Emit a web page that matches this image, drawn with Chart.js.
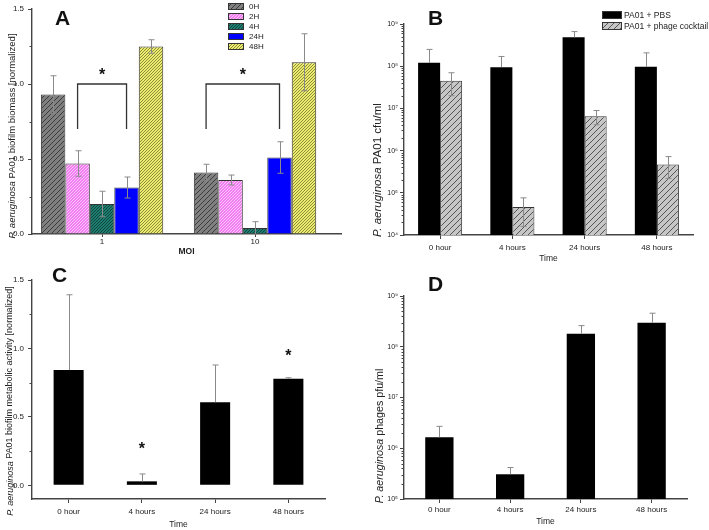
<!DOCTYPE html>
<html>
<head>
<meta charset="utf-8">
<script src="https://cdn.jsdelivr.net/npm/chart.js@4.4.1/dist/chart.umd.min.js"></script>
<style>
html,body{margin:0;padding:0;background:#fff;}
#wrap{position:relative;width:709px;height:530px;overflow:hidden;background:#fff;}
.panel{position:absolute;}
.letter{position:absolute;font:bold 21px "Liberation Sans",Arial,sans-serif;line-height:21px;color:#111;}
</style>
</head>
<body>
<div id="wrap">
  <div class="panel" style="left:0;top:0;width:355px;height:265px"><canvas id="cA"></canvas></div>
  <div class="panel" style="left:355px;top:0;width:354px;height:265px"><canvas id="cB"></canvas></div>
  <div class="panel" style="left:0;top:265px;width:355px;height:265px"><canvas id="cC"></canvas></div>
  <div class="panel" style="left:355px;top:265px;width:354px;height:265px"><canvas id="cD"></canvas></div>
  <div class="letter" style="left:55px;top:7px">A</div>
  <div class="letter" style="left:428px;top:7px">B</div>
  <div class="letter" style="left:52px;top:264px">C</div>
  <div class="letter" style="left:428px;top:273px">D</div>
</div>
<script>
// ---------------- DATA ----------------
// Panel A
const moiCategories = ['1', '10'];
const seriesNamesA = ['0H', '2H', '4H', '24H', '48H'];
const biomass0H  = [0.93, 0.41];
const biomass2H  = [0.47, 0.36];
const biomass4H  = [0.20, 0.04];
const biomass24H = [0.31, 0.51];
const biomass48H = [1.25, 1.145];
const sd0H  = [0.125, 0.055];
const sd2H  = [0.085, 0.033];
const sd4H  = [0.085, 0.042];
const sd24H = [0.07, 0.105];
const sd48H = [0.045, 0.19];
const yTicksA = [0, 0.5, 1.0, 1.5];
const yMinorA = [0.25, 0.75, 1.25];

// Panel B
const timeCategories = ['0 hour', '4 hours', '24 hours', '48 hours'];
const seriesNamesB = ['PA01 + PBS', 'PA01 + phage cocktail'];
const cfuPBS   = [1.2e8, 9.5e7, 4.85e8, 9.7e7];
const sdPBS    = [1.3e8, 7.5e7, 1.75e8, 1.1e8];
const cfuPhage = [4.5e7, 4.6e4, 6.5e6, 4.7e5];
const sdPhage  = [2.5e7, 3.0e4, 2.4e6, 2.5e5];
const yExpB = [4, 5, 6, 7, 8, 9];

// Panel C
const metabolic   = [0.842, 0.029, 0.607, 0.779];
const sdMetabolic = [0.55, 0.054, 0.272, 0.007];
const starsC = [{ index: 1, y: 0.284 }, { index: 3, y: 0.97 }];
const yTicksC = [0, 0.5, 1.0, 1.5];
const yMinorC = [0.25, 0.75, 1.25];

// Panel D
const pfuPhages = [1.65e6, 3.07e5, 1.81e8, 2.98e8];
const sdPfu     = [1.05e6, 1.1e5, 0.8e8, 1.6e8];
const yExpD = [5, 6, 7, 8, 9];

// ---------------- HELPERS ----------------
const FONT = '"Liberation Sans", Arial, Helvetica, sans-serif';
Chart.defaults.font.family = FONT;
Chart.defaults.font.size = 8;
Chart.defaults.color = '#222';

const SUP = {'0':'⁰','1':'¹','2':'²','3':'³','4':'⁴','5':'⁵','6':'⁶','7':'⁷','8':'⁸','9':'⁹'};
function powLabel(v) {
  const e = Math.round(Math.log10(v));
  return '10' + String(e).split('').map(c => SUP[c] || c).join('');
}
function logMinor(exps) {
  const out = [];
  for (let i = 0; i < exps.length - 1; i++) {
    for (let k = 2; k <= 9; k++) out.push(k * Math.pow(10, exps[i]));
  }
  return out;
}

function hatch(bg, line, spacing, lw) {
  const c = document.createElement('canvas');
  c.width = spacing; c.height = spacing;
  const g = c.getContext('2d');
  g.fillStyle = bg; g.fillRect(0, 0, spacing, spacing);
  g.strokeStyle = line; g.lineWidth = lw;
  g.beginPath();
  g.moveTo(-1, spacing + 1); g.lineTo(spacing + 1, -1);
  g.moveTo(-1, 1); g.lineTo(1, -1);
  g.moveTo(spacing - 1, spacing + 1); g.lineTo(spacing + 1, spacing - 1);
  g.stroke();
  return g.createPattern(c, 'repeat');
}

// ---------------- PLUGINS ----------------
const errorBars = {
  id: 'errorBars',
  afterDatasetsDraw(chart) {
    const ctx = chart.ctx, ys = chart.scales.y;
    ctx.save();
    ctx.strokeStyle = '#8a8a8a';
    ctx.lineWidth = 1;
    chart.data.datasets.forEach((ds, i) => {
      if (!ds.errors) return;
      const meta = chart.getDatasetMeta(i);
      meta.data.forEach((bar, j) => {
        const v = meta.controller.getParsed(j).y;
        const e = ds.errors[j];
        const yTop = ys.getPixelForValue(v + e);
        const lowV = v - e;
        const yBot = ds.errorDown ? (lowV > ys.min ? ys.getPixelForValue(lowV) : ys.getPixelForValue(ys.min)) : bar.y;
        const x = Math.round(bar.x) + 0.5;
        ctx.beginPath();
        ctx.moveTo(x, yTop); ctx.lineTo(x, yBot);
        ctx.moveTo(x - 3, yTop); ctx.lineTo(x + 3, yTop);
        if (ds.errorDown && lowV > ys.min) { ctx.moveTo(x - 3, yBot); ctx.lineTo(x + 3, yBot); }
        ctx.stroke();
      });
    });
    ctx.restore();
  }
};

const minorTicks = {
  id: 'minorTicks',
  afterDraw(chart, args, o) {
    if (!o.values) return;
    const ctx = chart.ctx, ys = chart.scales.y, x0 = chart.chartArea.left;
    ctx.save();
    ctx.strokeStyle = '#444'; ctx.lineWidth = 1;
    ctx.beginPath();
    o.values.forEach(v => {
      const y = Math.round(ys.getPixelForValue(v)) + 0.5;
      ctx.moveTo(x0 - (o.len || 2.5), y); ctx.lineTo(x0, y);
    });
    ctx.stroke();
    ctx.restore();
  }
};

const yTitle = {
  id: 'yTitle',
  afterDraw(chart, args, o) {
    if (!o.parts) return;
    const ctx = chart.ctx;
    ctx.save();
    ctx.translate(o.x, o.y);
    ctx.rotate(-Math.PI / 2);
    ctx.fillStyle = '#222';
    ctx.textBaseline = 'middle';
    ctx.textAlign = 'left';
    const fonts = o.parts.map(p => (p.italic ? 'italic ' : '') + o.size + 'px ' + FONT);
    let total = 0;
    const widths = o.parts.map((p, i) => { ctx.font = fonts[i]; const w = ctx.measureText(p.text).width; total += w; return w; });
    let cx = -total / 2;
    o.parts.forEach((p, i) => { ctx.font = fonts[i]; ctx.fillText(p.text, cx, 0); cx += widths[i]; });
    ctx.restore();
  }
};

const xTitle = {
  id: 'xTitle',
  afterDraw(chart, args, o) {
    if (!o.text) return;
    const ctx = chart.ctx, a = chart.chartArea;
    ctx.save();
    ctx.fillStyle = '#222';
    ctx.font = (o.bold ? 'bold ' : '') + o.size + 'px ' + FONT;
    ctx.textAlign = 'center'; ctx.textBaseline = 'middle';
    ctx.fillText(o.text, (a.left + a.right) / 2, a.bottom + o.dy);
    ctx.restore();
  }
};

const boxLegend = {
  id: 'boxLegend',
  afterDraw(chart, args, o) {
    if (!o.enabled) return;
    const ctx = chart.ctx;
    ctx.save();
    chart.data.datasets.forEach((ds, i) => {
      const y = o.y + i * o.step;
      ctx.fillStyle = ds.backgroundColor;
      ctx.fillRect(o.x, Math.round(y - o.h / 2), o.w, o.h);
      ctx.strokeStyle = '#333'; ctx.lineWidth = 1;
      ctx.strokeRect(o.x + 0.5, Math.round(y - o.h / 2) + 0.5, o.w - 1, o.h - 1);
      ctx.fillStyle = '#222';
      ctx.font = o.size + 'px ' + FONT;
      ctx.textBaseline = 'middle'; ctx.textAlign = 'left';
      ctx.fillText(ds.label, o.x + o.w + o.gap, y + 0.5);
    });
    ctx.restore();
  }
};

const starMarks = {
  id: 'starMarks',
  afterDraw(chart, args, o) {
    const ctx = chart.ctx, ys = chart.scales.y;
    ctx.save();
    ctx.fillStyle = '#111'; ctx.strokeStyle = '#333'; ctx.lineWidth = 1.3;
    ctx.font = 'bold 16px ' + FONT;
    ctx.textAlign = 'center'; ctx.textBaseline = 'alphabetic';
    (o.brackets || []).forEach(b => {
      const x1 = chart.getDatasetMeta(b.from).data[b.group].x;
      const x2 = chart.getDatasetMeta(b.to).data[b.group].x;
      const yt = ys.getPixelForValue(b.top), yl = ys.getPixelForValue(b.leg);
      ctx.beginPath();
      ctx.moveTo(x1, yl); ctx.lineTo(x1, yt); ctx.lineTo(x2, yt); ctx.lineTo(x2, yl);
      ctx.stroke();
      ctx.fillText('*', (x1 + x2) / 2, ys.getPixelForValue(b.star) + 8);
    });
    (o.stars || []).forEach(s => {
      const x = chart.getDatasetMeta(0).data[s.index].x;
      ctx.fillText('*', x, ys.getPixelForValue(s.y) + 8);
    });
    ctx.restore();
  }
};

const PLUGINS = [errorBars, minorTicks, yTitle, xTitle, boxLegend, starMarks];
const AXIS_BORDER = { color: '#444', width: 1.4 };

function common(pad) {
  return {
    responsive: true, maintainAspectRatio: false, animation: false, devicePixelRatio: 1,
    layout: { padding: pad },
    events: []
  };
}

// ---------------- PANEL A ----------------
const fillsA = [
  hatch('#808080', '#3c3c3c', 5, 1),
  hatch('#f07ef0', '#ffc6ff', 3, 1),
  hatch('#1f7d6f', '#0d4740', 3, 1),
  '#0000ff',
  hatch('#ecec72', '#8c8c34', 3, 1)
];
const valuesA = [biomass0H, biomass2H, biomass4H, biomass24H, biomass48H];
const sdsA = [sd0H, sd2H, sd4H, sd24H, sd48H];
new Chart(document.getElementById('cA'), {
  type: 'bar',
  data: {
    datasets: seriesNamesA.map((name, k) => ({
      label: name,
      data: moiCategories.map((c, i) => ({ x: i + 1, y: valuesA[k][i] })),
      backgroundColor: fillsA[k],
      borderColor: '#333', borderWidth: 1,
      errors: sdsA[k], errorDown: true,
      categoryPercentage: 0.8, barPercentage: 1
    }))
  },
  options: Object.assign(common({ top: 9, right: 14, left: 0, bottom: 0 }), {
    scales: {
      x: {
        type: 'linear', min: 0.542, max: 2.562, offset: false,
        afterBuildTicks: s => { s.ticks = moiCategories.map((c, i) => ({ value: i + 1 })); },
        afterFit: s => { s.height = 31; },
        ticks: { callback: v => moiCategories[Math.round(v) - 1], padding: 0, maxRotation: 0, font: { size: 8 } },
        grid: { display: true, drawOnChartArea: false, offset: false, tickLength: 3, tickColor: '#444' },
        border: AXIS_BORDER
      },
      y: {
        min: 0, max: 1.5,
        afterBuildTicks: s => { s.ticks = yTicksA.map(v => ({ value: v })); },
        afterFit: s => { s.width = 32; },
        ticks: { callback: v => v.toFixed(1), padding: 4, font: { size: 8 } },
        grid: { drawOnChartArea: false, tickLength: 4, tickColor: '#444' },
        border: AXIS_BORDER
      }
    },
    plugins: {
      legend: { display: false }, tooltip: { enabled: false },
      minorTicks: { values: yMinorA },
      yTitle: { x: 12, y: 136, size: 9.5, parts: [{ text: 'P. aeruginosa', italic: true }, { text: ' PA01 biofilm biomass [normalized]' }] },
      xTitle: { text: 'MOI', dy: 18, size: 8.5, bold: true },
      boxLegend: { enabled: true, x: 228, y: 6, step: 10, w: 16, h: 7, gap: 5, size: 8 },
      starMarks: {
        brackets: [
          { group: 0, from: 1, to: 3, top: 1.0, leg: 0.7, star: 1.08 },
          { group: 1, from: 0, to: 3, top: 1.0, leg: 0.7, star: 1.08 }
        ]
      }
    }
  }),
  plugins: PLUGINS
});

// ---------------- PANEL B ----------------
const fillPhage = hatch('#c6c6c6', '#555555', 6, 1);
new Chart(document.getElementById('cB'), {
  type: 'bar',
  data: {
    labels: timeCategories,
    datasets: [
      { label: seriesNamesB[0], data: cfuPBS, errors: sdPBS, errorDown: false,
        backgroundColor: '#000', borderColor: '#000', borderWidth: 0,
        categoryPercentage: 0.61, barPercentage: 1 },
      { label: seriesNamesB[1], data: cfuPhage, errors: sdPhage, errorDown: true,
        backgroundColor: fillPhage, borderColor: '#333', borderWidth: 1,
        categoryPercentage: 0.61, barPercentage: 1 }
    ]
  },
  options: Object.assign(common({ top: 24, right: 16, left: 0, bottom: 0 }), {
    scales: {
      x: {
        afterFit: s => { s.height = 30; },
        ticks: { padding: 4, maxRotation: 0, autoSkip: false, font: { size: 8 } },
        grid: { drawOnChartArea: false, offset: false, tickLength: 4, tickColor: '#444' },
        border: AXIS_BORDER
      },
      y: {
        type: 'logarithmic', min: Math.pow(10, yExpB[0]), max: Math.pow(10, yExpB[yExpB.length - 1]),
        afterBuildTicks: s => { s.ticks = yExpB.map(e => ({ value: Math.pow(10, e), major: true })); },
        afterFit: s => { s.width = 49; },
        ticks: { callback: v => powLabel(v), padding: 2, font: { size: 7 } },
        grid: { drawOnChartArea: false, tickLength: 4, tickColor: '#444' },
        border: AXIS_BORDER
      }
    },
    plugins: {
      legend: { display: false }, tooltip: { enabled: false },
      minorTicks: { values: logMinor(yExpB), len: 2.5 },
      yTitle: { x: 23, y: 170, size: 11.5, parts: [{ text: 'P. aeruginosa', italic: true }, { text: ' PA01 cfu/ml' }] },
      xTitle: { text: 'Time', dy: 24, size: 8.5 },
      boxLegend: { enabled: true, x: 247, y: 15, step: 11, w: 20, h: 8, gap: 2, size: 8.5 }
    }
  }),
  plugins: PLUGINS
});

// ---------------- PANEL C ----------------
new Chart(document.getElementById('cC'), {
  type: 'bar',
  data: {
    labels: timeCategories,
    datasets: [
      { label: 'metabolic activity', data: metabolic, errors: sdMetabolic, errorDown: false,
        backgroundColor: '#000', borderWidth: 0, categoryPercentage: 0.41, barPercentage: 1 }
    ]
  },
  options: Object.assign(common({ top: 15, right: 30, left: 0, bottom: 0 }), {
    scales: {
      x: {
        afterFit: s => { s.height = 31; },
        ticks: { padding: 4, maxRotation: 0, autoSkip: false, font: { size: 8 } },
        grid: { drawOnChartArea: false, offset: false, tickLength: 4, tickColor: '#444' },
        border: AXIS_BORDER
      },
      y: {
        min: -0.1, max: 1.5,
        afterBuildTicks: s => { s.ticks = yTicksC.map(v => ({ value: v })); },
        afterFit: s => { s.width = 32; },
        ticks: { callback: v => v.toFixed(1), padding: 4, font: { size: 8 } },
        grid: { drawOnChartArea: false, tickLength: 4, tickColor: '#444' },
        border: AXIS_BORDER
      }
    },
    plugins: {
      legend: { display: false }, tooltip: { enabled: false },
      minorTicks: { values: yMinorC },
      yTitle: { x: 10, y: 136, size: 9, parts: [{ text: 'P. aeruginosa', italic: true }, { text: ' PA01 biofilm metabolic activity [normalized]' }] },
      xTitle: { text: 'Time', dy: 26, size: 8.5 },
      starMarks: { stars: starsC }
    }
  }),
  plugins: PLUGINS
});

// ---------------- PANEL D ----------------
new Chart(document.getElementById('cD'), {
  type: 'bar',
  data: {
    labels: timeCategories,
    datasets: [
      { label: 'phages', data: pfuPhages, errors: sdPfu, errorDown: false,
        backgroundColor: '#000', borderWidth: 0, categoryPercentage: 0.4, barPercentage: 1 }
    ]
  },
  options: Object.assign(common({ top: 31, right: 22, left: 0, bottom: 0 }), {
    scales: {
      x: {
        afterFit: s => { s.height = 31; },
        ticks: { padding: 2, maxRotation: 0, autoSkip: false, font: { size: 8 } },
        grid: { drawOnChartArea: false, offset: false, tickLength: 4, tickColor: '#444' },
        border: AXIS_BORDER
      },
      y: {
        type: 'logarithmic', min: Math.pow(10, yExpD[0]), max: Math.pow(10, yExpD[yExpD.length - 1]),
        afterBuildTicks: s => { s.ticks = yExpD.map(e => ({ value: Math.pow(10, e), major: true })); },
        afterFit: s => { s.width = 49; },
        ticks: { callback: v => powLabel(v), padding: 2, font: { size: 7 } },
        grid: { drawOnChartArea: false, tickLength: 4, tickColor: '#444' },
        border: AXIS_BORDER
      }
    },
    plugins: {
      legend: { display: false }, tooltip: { enabled: false },
      minorTicks: { values: logMinor(yExpD), len: 2.5 },
      yTitle: { x: 25, y: 171, size: 10.7, parts: [{ text: 'P. aeruginosa', italic: true }, { text: ' phages pfu/ml' }] },
      xTitle: { text: 'Time', dy: 23, size: 8.5 }
    }
  }),
  plugins: PLUGINS
});
</script>
</body>
</html>
